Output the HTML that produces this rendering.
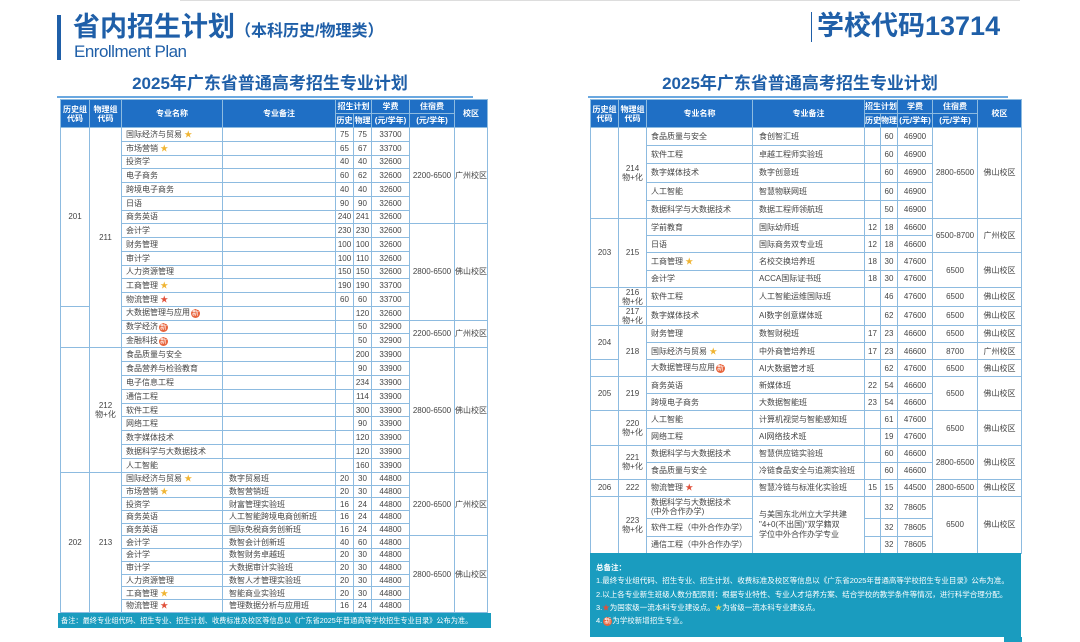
<!DOCTYPE html>
<html><head><meta charset="utf-8"><style>
body{margin:0;width:1080px;height:642px;background:#fff;position:relative;overflow:hidden;font-family:"Liberation Sans","Noto Sans CJK SC",sans-serif;color:#444}
.a{position:absolute}
table{position:absolute;border-collapse:collapse;table-layout:fixed}
td{border:1px solid #8dbbe0;padding:0;font-size:8px;line-height:9px;text-align:center;overflow:hidden;white-space:nowrap;color:#444}
th{background:#1f6fc5;color:#fff;font-size:8px;line-height:9px;border:1px solid #8dbbe0;padding:0;font-weight:bold;white-space:nowrap}
td.n{text-align:left;padding-left:4px}
td.r{text-align:left;padding-left:6px}
.s{color:#f0b432}.rs{color:#e0503a}
.x{display:inline-block;background:#e8643c;color:#fff;border-radius:5px;font-size:7px;line-height:9px;padding:0 1px;margin-left:1px}
.title{color:#1f5fa8;font-weight:bold}
</style></head><body>
<div class="a" style="left:180px;top:0;width:840px;height:1px;background:#ddd"></div>
<div class="a" style="left:57px;top:15px;width:4px;height:45px;background:#1f5fa8"></div>
<div class="a title" style="left:73px;top:11px;font-size:27px;line-height:32px;white-space:nowrap">省内招生计划<span style="font-size:16px">（本科历史/物理类）</span></div>
<div class="a" style="left:74px;top:42px;font-size:17px;color:#1f5fa8;line-height:20px;letter-spacing:-0.5px">Enrollment Plan</div>
<div class="a title" style="left:100px;top:73px;width:340px;text-align:center;font-size:17px;line-height:22px">2025年广东省普通高考招生专业计划</div>
<div class="a" style="left:57px;top:96px;width:416px;height:2px;background:#6aa8e0"></div>
<div class="a" style="left:811px;top:12px;width:1px;height:30px;background:#1f5fa8"></div>
<div class="a title" style="left:817px;top:10px;font-size:27px;line-height:32px;white-space:nowrap">学校代码13714</div>
<div class="a title" style="left:630px;top:73px;width:340px;text-align:center;font-size:17px;line-height:22px">2025年广东省普通高考招生专业计划</div>
<div class="a" style="left:588px;top:96px;width:420px;height:2px;background:#6aa8e0"></div>

<table style="left:60px;top:99px;width:427px">
<colgroup><col style="width:29px"><col style="width:32px"><col style="width:101px"><col style="width:113px"><col style="width:18px"><col style="width:18px"><col style="width:38px"><col style="width:45px"><col style="width:33px"></colgroup>
<tr style="height:14px"><th rowspan="2">历史组<br>代码</th><th rowspan="2">物理组<br>代码</th><th rowspan="2">专业名称</th><th rowspan="2">专业备注</th><th colspan="2">招生计划</th><th>学费</th><th>住宿费</th><th rowspan="2">校区</th></tr>
<tr style="height:14px"><th>历史</th><th>物理</th><th>(元/学年)</th><th>(元/学年)</th></tr>
<tr style="height:13.75px"><td rowspan="13">201</td><td rowspan="16">211</td><td class="n">国际经济与贸易 <span class="s">★</span></td><td></td><td>75</td><td>75</td><td>33700</td><td rowspan="7">2200-6500</td><td rowspan="7">广州校区</td></tr>
<tr style="height:13.75px"><td class="n">市场营销 <span class="s">★</span></td><td></td><td>65</td><td>67</td><td>33700</td></tr>
<tr style="height:13.75px"><td class="n">投资学</td><td></td><td>40</td><td>40</td><td>32600</td></tr>
<tr style="height:13.75px"><td class="n">电子商务</td><td></td><td>60</td><td>62</td><td>32600</td></tr>
<tr style="height:13.75px"><td class="n">跨境电子商务</td><td></td><td>40</td><td>40</td><td>32600</td></tr>
<tr style="height:13.75px"><td class="n">日语</td><td></td><td>90</td><td>90</td><td>32600</td></tr>
<tr style="height:13.75px"><td class="n">商务英语</td><td></td><td>240</td><td>241</td><td>32600</td></tr>
<tr style="height:13.75px"><td class="n">会计学</td><td></td><td>230</td><td>230</td><td>32600</td><td rowspan="7">2800-6500</td><td rowspan="7">佛山校区</td></tr>
<tr style="height:13.75px"><td class="n">财务管理</td><td></td><td>100</td><td>100</td><td>32600</td></tr>
<tr style="height:13.75px"><td class="n">审计学</td><td></td><td>100</td><td>110</td><td>32600</td></tr>
<tr style="height:13.75px"><td class="n">人力资源管理</td><td></td><td>150</td><td>150</td><td>32600</td></tr>
<tr style="height:13.75px"><td class="n">工商管理 <span class="s">★</span></td><td></td><td>190</td><td>190</td><td>33700</td></tr>
<tr style="height:13.75px"><td class="n">物流管理 <span class="rs">★</span></td><td></td><td>60</td><td>60</td><td>33700</td></tr>
<tr style="height:13.75px"><td rowspan="3"></td><td class="n">大数据管理与应用<span class="x">新</span></td><td></td><td></td><td>120</td><td>32600</td></tr>
<tr style="height:13.75px"><td class="n">数学经济<span class="x">新</span></td><td></td><td></td><td>50</td><td>32900</td><td rowspan="2">2200-6500</td><td rowspan="2">广州校区</td></tr>
<tr style="height:13.75px"><td class="n">金融科技<span class="x">新</span></td><td></td><td></td><td>50</td><td>32900</td></tr>
<tr style="height:13.9px"><td rowspan="9"></td><td rowspan="9">212<br>物+化</td><td class="n">食品质量与安全</td><td></td><td></td><td>200</td><td>33900</td><td rowspan="9">2800-6500</td><td rowspan="9">佛山校区</td></tr>
<tr style="height:13.9px"><td class="n">食品营养与检验教育</td><td></td><td></td><td>90</td><td>33900</td></tr>
<tr style="height:13.9px"><td class="n">电子信息工程</td><td></td><td></td><td>234</td><td>33900</td></tr>
<tr style="height:13.9px"><td class="n">通信工程</td><td></td><td></td><td>114</td><td>33900</td></tr>
<tr style="height:13.9px"><td class="n">软件工程</td><td></td><td></td><td>300</td><td>33900</td></tr>
<tr style="height:13.9px"><td class="n">网络工程</td><td></td><td></td><td>90</td><td>33900</td></tr>
<tr style="height:13.9px"><td class="n">数字媒体技术</td><td></td><td></td><td>120</td><td>33900</td></tr>
<tr style="height:13.9px"><td class="n">数据科学与大数据技术</td><td></td><td></td><td>120</td><td>33900</td></tr>
<tr style="height:13.9px"><td class="n">人工智能</td><td></td><td></td><td>160</td><td>33900</td></tr>
<tr style="height:12.7px"><td rowspan="11">202</td><td rowspan="11">213</td><td class="n">国际经济与贸易 <span class="s">★</span></td><td class="r">数字贸易班</td><td>20</td><td>30</td><td>44800</td><td rowspan="5">2200-6500</td><td rowspan="5">广州校区</td></tr>
<tr style="height:12.7px"><td class="n">市场营销 <span class="s">★</span></td><td class="r">数智营销班</td><td>20</td><td>30</td><td>44800</td></tr>
<tr style="height:12.7px"><td class="n">投资学</td><td class="r">财富管理实验班</td><td>16</td><td>24</td><td>44800</td></tr>
<tr style="height:12.7px"><td class="n">商务英语</td><td class="r">人工智能跨境电商创新班</td><td>16</td><td>24</td><td>44800</td></tr>
<tr style="height:12.7px"><td class="n">商务英语</td><td class="r">国际免税商务创新班</td><td>16</td><td>24</td><td>44800</td></tr>
<tr style="height:12.7px"><td class="n">会计学</td><td class="r">数智会计创新班</td><td>40</td><td>60</td><td>44800</td><td rowspan="6">2800-6500</td><td rowspan="6">佛山校区</td></tr>
<tr style="height:12.7px"><td class="n">会计学</td><td class="r">数智财务卓越班</td><td>20</td><td>30</td><td>44800</td></tr>
<tr style="height:12.7px"><td class="n">审计学</td><td class="r">大数据审计实验班</td><td>20</td><td>30</td><td>44800</td></tr>
<tr style="height:12.7px"><td class="n">人力资源管理</td><td class="r">数智人才管理实验班</td><td>20</td><td>30</td><td>44800</td></tr>
<tr style="height:12.7px"><td class="n">工商管理 <span class="s">★</span></td><td class="r">智能商业实验班</td><td>20</td><td>30</td><td>44800</td></tr>
<tr style="height:12.7px"><td class="n">物流管理 <span class="rs">★</span></td><td class="r">管理数据分析与应用班</td><td>16</td><td>24</td><td>44800</td></tr>
</table>
<div class="a" style="left:58px;top:613px;width:433px;height:15px;background:#1a9cbf;color:#fff;font-size:7.2px;line-height:15px;white-space:nowrap;padding-left:3px;overflow:hidden;box-sizing:border-box">备注：最终专业组代码、招生专业、招生计划、收费标准及校区等信息以《广东省2025年普通高等学校招生专业目录》公布为准。</div>

<table style="left:590px;top:99px;width:431px">
<colgroup><col style="width:28px"><col style="width:28px"><col style="width:106px"><col style="width:112px"><col style="width:16px"><col style="width:17px"><col style="width:35px"><col style="width:45px"><col style="width:44px"></colgroup>
<tr style="height:14px"><th rowspan="2">历史组<br>代码</th><th rowspan="2">物理组<br>代码</th><th rowspan="2">专业名称</th><th rowspan="2">专业备注</th><th colspan="2">招生计划</th><th>学费</th><th>住宿费</th><th rowspan="2">校区</th></tr>
<tr style="height:14px"><th>历史</th><th>物理</th><th>(元/学年)</th><th>(元/学年)</th></tr>
<tr style="height:18.2px"><td rowspan="5"></td><td rowspan="5">214<br>物+化</td><td class="n">食品质量与安全</td><td class="r">食创智汇班</td><td></td><td>60</td><td>46900</td><td rowspan="5">2800-6500</td><td rowspan="5">佛山校区</td></tr>
<tr style="height:18.2px"><td class="n">软件工程</td><td class="r">卓越工程师实验班</td><td></td><td>60</td><td>46900</td></tr>
<tr style="height:18.2px"><td class="n">数字媒体技术</td><td class="r">数字创意班</td><td></td><td>60</td><td>46900</td></tr>
<tr style="height:18.2px"><td class="n">人工智能</td><td class="r">智慧物联网班</td><td></td><td>60</td><td>46900</td></tr>
<tr style="height:18.2px"><td class="n">数据科学与大数据技术</td><td class="r">数据工程师领航班</td><td></td><td>50</td><td>46900</td></tr>
<tr style="height:17.25px"><td rowspan="4">203</td><td rowspan="4">215</td><td class="n">学前教育</td><td class="r">国际幼师班</td><td>12</td><td>18</td><td>46600</td><td rowspan="2">6500-8700</td><td rowspan="2">广州校区</td></tr>
<tr style="height:17.25px"><td class="n">日语</td><td class="r">国际商务双专业班</td><td>12</td><td>18</td><td>46600</td></tr>
<tr style="height:17.25px"><td class="n">工商管理 <span class="s">★</span></td><td class="r">名校交换培养班</td><td>18</td><td>30</td><td>47600</td><td rowspan="2">6500</td><td rowspan="2">佛山校区</td></tr>
<tr style="height:17.25px"><td class="n">会计学</td><td class="r">ACCA国际证书班</td><td>18</td><td>30</td><td>47600</td></tr>
<tr style="height:19px"><td rowspan="2"></td><td>216<br>物+化</td><td class="n">软件工程</td><td class="r">人工智能运维国际班</td><td></td><td>46</td><td>47600</td><td>6500</td><td>佛山校区</td></tr>
<tr style="height:19px"><td>217<br>物+化</td><td class="n">数字媒体技术</td><td class="r">AI数字创意媒体班</td><td></td><td>62</td><td>47600</td><td>6500</td><td>佛山校区</td></tr>
<tr style="height:17.1px"><td rowspan="2">204</td><td rowspan="3">218</td><td class="n">财务管理</td><td class="r">数智财税班</td><td>17</td><td>23</td><td>46600</td><td>6500</td><td>佛山校区</td></tr>
<tr style="height:17.1px"><td class="n">国际经济与贸易 <span class="s">★</span></td><td class="r">中外商管培养班</td><td>17</td><td>23</td><td>46600</td><td>8700</td><td>广州校区</td></tr>
<tr style="height:17.1px"><td></td><td class="n">大数据管理与应用<span class="x">新</span></td><td class="r">AI大数据管才班</td><td></td><td>62</td><td>47600</td><td>6500</td><td>佛山校区</td></tr>
<tr style="height:17.1px"><td rowspan="2">205</td><td rowspan="2">219</td><td class="n">商务英语</td><td class="r">新媒体班</td><td>22</td><td>54</td><td>46600</td><td rowspan="2">6500</td><td rowspan="2">佛山校区</td></tr>
<tr style="height:17.1px"><td class="n">跨境电子商务</td><td class="r">大数据智能班</td><td>23</td><td>54</td><td>46600</td></tr>
<tr style="height:17.1px"><td rowspan="2"></td><td rowspan="2">220<br>物+化</td><td class="n">人工智能</td><td class="r">计算机视觉与智能感知班</td><td></td><td>61</td><td>47600</td><td rowspan="2">6500</td><td rowspan="2">佛山校区</td></tr>
<tr style="height:17.1px"><td class="n">网络工程</td><td class="r">AI网络技术班</td><td></td><td>19</td><td>47600</td></tr>
<tr style="height:17.1px"><td rowspan="2"></td><td rowspan="2">221<br>物+化</td><td class="n">数据科学与大数据技术</td><td class="r">智慧供应链实验班</td><td></td><td>60</td><td>46600</td><td rowspan="2">2800-6500</td><td rowspan="2">佛山校区</td></tr>
<tr style="height:17.1px"><td class="n">食品质量与安全</td><td class="r">冷链食品安全与追溯实验班</td><td></td><td>60</td><td>46600</td></tr>
<tr style="height:17.1px"><td>206</td><td>222</td><td class="n">物流管理 <span class="rs">★</span></td><td class="r">智慧冷链与标准化实验班</td><td>15</td><td>15</td><td>44500</td><td>2800-6500</td><td>佛山校区</td></tr>
<tr style="height:22px"><td rowspan="3"></td><td rowspan="3">223<br>物+化</td><td class="n">数据科学与大数据技术<br>(中外合作办学)</td><td class="r" rowspan="3" style="white-space:normal;line-height:10px">与美国东北州立大学共建<br>"4+0(不出国)"双学籍双<br>学位中外合作办学专业</td><td></td><td>32</td><td>78605</td><td rowspan="3">6500</td><td rowspan="3">佛山校区</td></tr>
<tr style="height:18px"><td class="n">软件工程（中外合作办学）</td><td></td><td>32</td><td>78605</td></tr>
<tr style="height:17px"><td class="n">通信工程（中外合作办学）</td><td></td><td>32</td><td>78605</td></tr>
</table>
<div class="a" style="left:590px;top:553px;width:431px;height:84px;background:#1a9cbf;color:#fff;font-size:7.5px;line-height:13.3px;white-space:nowrap;padding:8px 0 0 6px;box-sizing:border-box;overflow:hidden">
<b>总备注：</b><br>
1.最终专业组代码、招生专业、招生计划、收费标准及校区等信息以《广东省2025年普通高等学校招生专业目录》公布为准。<br>
2.以上各专业新生班级人数分配原则：根据专业特性、专业人才培养方案、结合学校的教学条件等情况，进行科学合理分配。<br>
3.<span style="color:#e0503a">★</span>为国家级一流本科专业建设点。<span style="color:#f0d040">★</span>为省级一流本科专业建设点。<br>
4.<span class="x">新</span>为学校新增招生专业。</div>
<div class="a" style="left:1004px;top:637px;width:18px;height:5px;background:#1a9cbf"></div>
</body></html>
